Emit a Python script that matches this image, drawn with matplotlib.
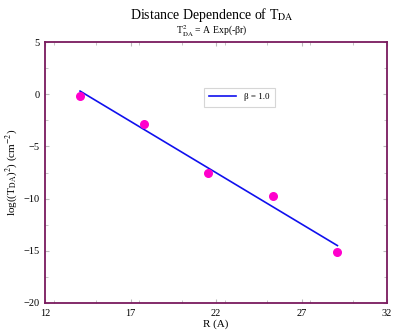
import matplotlib
matplotlib.use("Agg")
import matplotlib.pyplot as plt
from matplotlib.ticker import MultipleLocator

# data
r_vals = [14.05, 17.8, 21.55, 25.35, 29.1]
log_t = [-0.15, -2.85, -7.55, -9.75, -15.15]
fit_r = [14.05, 29.1]
fit_log_t = [0.3, -14.5]

x_ticks = [12, 17, 22, 27, 32]
y_ticks = [5, 0, -5, -10, -15, -20]

plt.rcParams['font.family'] = ['Liberation Serif', 'DejaVu Serif']
plt.rcParams['mathtext.fontset'] = 'stix'

spine_col = '#7a1a5e'

fig = plt.figure(figsize=(4.01, 3.32), dpi=100)
ax = fig.add_axes([45 / 401, 1 - 303 / 332, 342 / 401, 261 / 332])

ax.plot(fit_r, fit_log_t, color='#1010ee', lw=1.2, label='β = 1.0')
ax.scatter(r_vals, log_t, s=30, color='#ff00cc', zorder=3)

ax.set_xlim(12, 32)
ax.set_ylim(-20, 5)
ax.set_xticks(x_ticks)
ax.set_yticks(y_ticks)
ax.xaxis.set_minor_locator(MultipleLocator(2.5))
ax.yaxis.set_minor_locator(MultipleLocator(2.5))
ax.tick_params(which='both', direction='in', top=True, right=True,
               labelsize=7.5, color='#bbbbbb', pad=4)
ax.tick_params(which='major', length=3)
ax.tick_params(which='minor', length=2)
for s in ax.spines.values():
    s.set_color(spine_col)
    s.set_linewidth(1.3)

ax.set_xlabel('R (A)', fontsize=8, labelpad=1)
ax.set_ylabel(r'log((T$_{\rm DA}$)$^2$) (cm$^{-2}$)', fontsize=8)
ax.yaxis.set_label_coords(-25 / 342, 0.5)

# titles centred over the plot area
fig.text(212 / 401, 1 - 15 / 332, r'Distance Dependence of T$_{\rm DA}$',
         ha='center', va='center', fontsize=10)
fig.text(212 / 401, 1 - 31 / 332, r'T$^2_{\rm DA}$ = A Exp(-βr)',
         ha='center', va='center', fontsize=7)

leg = ax.legend(loc='center', bbox_to_anchor=(0.568, 0.788), fontsize=6.5,
                frameon=True, fancybox=False, handlelength=3,
                borderpad=0.6)
leg.get_frame().set_edgecolor('#cccccc')
leg.get_frame().set_linewidth(0.8)

fig.savefig('out.png', dpi=100)
